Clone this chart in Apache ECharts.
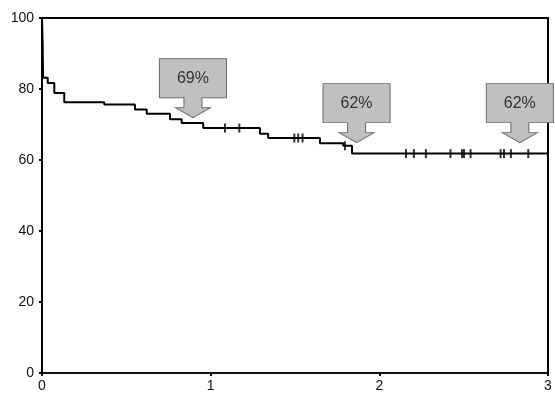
<!DOCTYPE html>
<html>
<head>
<meta charset="utf-8">
<script src="https://cdn.jsdelivr.net/npm/echarts@6/dist/echarts.min.js"></script>
<style>html,body{margin:0;padding:0;background:#fff}#c{width:555px;height:395px}</style>
</head>
<body>
<div id="c"></div>
<script>
// Kaplan-Meier step curve: time (years) and survival (%) after each event
var stepTimes  = [0, 0.004, 0.005, 0.006, 0.007, 0.034, 0.073, 0.132, 0.369, 0.551, 0.621, 0.759, 0.828, 0.956, 1.292, 1.341, 1.648, 1.786, 1.838, 3.0];
var stepValues = [100, 92.5, 88, 85.5, 83.2, 81.7, 78.9, 76.3, 75.6, 74.2, 73.0, 71.5, 70.4, 69.0, 67.4, 66.2, 64.7, 64.0, 61.8, 61.8];

// censoring tick marks
var censorTimes  = [1.085, 1.170, 1.496, 1.519, 1.545, 1.796, 2.158, 2.205, 2.276, 2.422, 2.490, 2.502, 2.541, 2.719, 2.739, 2.780, 2.883, 3.0];
var censorValues = [69.0, 69.0, 66.2, 66.2, 66.2, 64.0, 61.8, 61.8, 61.8, 61.8, 61.8, 61.8, 61.8, 61.8, 61.8, 61.8, 61.8, 61.8];

// callouts (arrow tip position) and labels
var calloutTimes  = [0.895, 1.865, 2.833];
var calloutValues = [71.9, 64.9, 64.9];
var calloutLabels = ['69%', '62%', '62%'];

// axis ticks
var xTicks = [0, 1, 2, 3];
var yTicks = [0, 20, 40, 60, 80, 100];

var calloutPath = 'path://M0,0 L67,0 L67,39 L42.5,39 L42.5,49 L51,49 L33.5,59 L16,49 L24.5,49 L24.5,39 L0,39 Z';

var chart = echarts.init(document.getElementById('c'), null, {renderer: 'canvas'});
var font = 'Arial, "Liberation Sans", Helvetica, sans-serif';

chart.setOption({
  animation: false,
  backgroundColor: '#fff',
  grid: {left: 42, right: 7, top: 18, bottom: 22, show: true, borderColor: '#000', borderWidth: 2, backgroundColor: 'transparent'},
  xAxis: {
    type: 'value', min: xTicks[0], max: xTicks[xTicks.length - 1], interval: 1,
    axisLine: {show: true, lineStyle: {color: '#111', width: 2}},
    axisTick: {show: true, length: 3, lineStyle: {color: '#111', width: 2}},
    axisLabel: {color: '#111', fontSize: 14, fontFamily: font, margin: 6, showMinLabel: true, showMaxLabel: true},
    splitLine: {show: false}
  },
  yAxis: {
    type: 'value', min: yTicks[0], max: yTicks[yTicks.length - 1], interval: 20,
    axisLine: {show: true, lineStyle: {color: '#000', width: 2}},
    axisTick: {show: true, length: 3, lineStyle: {color: '#000', width: 2}},
    axisLabel: {color: '#111', fontSize: 14, fontFamily: font, margin: 8},
    splitLine: {show: false}
  },
  series: [
    {
      type: 'line', step: 'end', symbol: 'none', z: 3,
      data: stepTimes.map(function (t, i) { return [t, stepValues[i]]; }),
      lineStyle: {color: '#000', width: 2},
      markPoint: {
        symbol: calloutPath,
        symbolSize: [67, 59],
        symbolOffset: [0, '-50%'],
        itemStyle: {color: '#c0c0c0', borderColor: '#6e6e6e', borderWidth: 1},
        label: {show: true, position: 'inside', offset: [0, -10], color: '#333', fontSize: 16, fontFamily: font},
        data: calloutTimes.map(function (t, i) {
          return {coord: [t, calloutValues[i]], value: calloutLabels[i]};
        })
      }
    },
    {
      type: 'scatter', z: 4,
      symbol: 'rect', symbolSize: [2, 9],
      itemStyle: {color: '#000'},
      data: censorTimes.map(function (t, i) { return [t, censorValues[i]]; })
    }
  ]
});
</script>
</body>
</html>
